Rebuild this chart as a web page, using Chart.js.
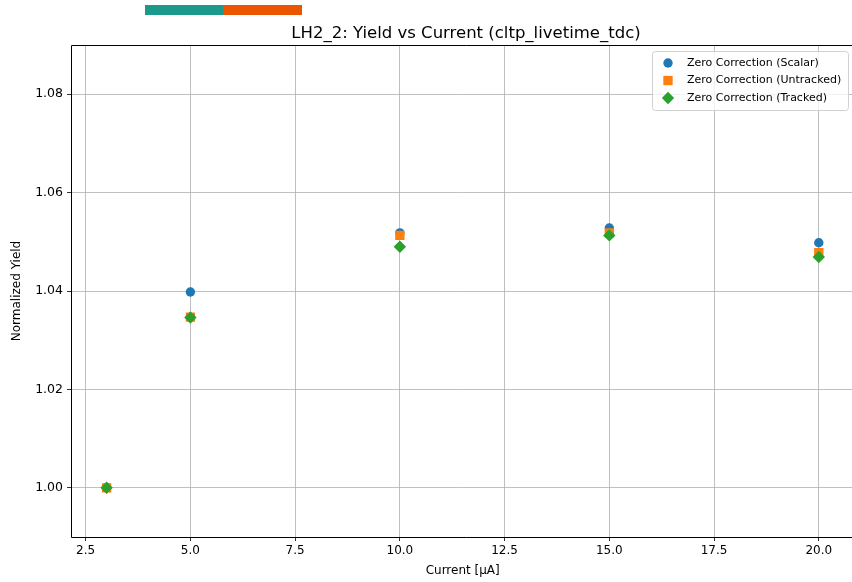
<!DOCTYPE html>
<html>
<head>
<meta charset="utf-8">
<script src="https://cdn.jsdelivr.net/npm/chart.js@4/dist/chart.umd.min.js"></script>
<style>
  html, body { margin: 0; padding: 0; background: #fff; overflow: hidden; }
  #wrap { position: relative; width: 861px; height: 582px; }
  .bar { position: absolute; top: 5px; height: 10px; }
</style>
</head>
<body>
<div id="wrap">
  <canvas id="yieldChart" width="861" height="582"></canvas>
  <div class="bar" style="left:145px;width:78px;background:#1b998a"></div>
  <div class="bar" style="left:223px;width:79px;background:#ea5600"></div>
</div>
<script>
// {LH2_2 - 전류별 수율 산점도}

const currents = [3, 5, 10, 15, 20];
const scalarYield = [1.0000, 1.0398, 1.0518, 1.0528, 1.0498];
const untrackedYield = [1.0000, 1.0347, 1.0513, 1.0518, 1.0478];
const trackedYield = [1.0000, 1.0346, 1.0490, 1.0513, 1.0469];
const xTicks = [2.5, 5.0, 7.5, 10.0, 12.5, 15.0, 17.5, 20.0];
const yTicks = [1.00, 1.02, 1.04, 1.06, 1.08];

const seriesNames = ['Zero Correction (Scalar)', 'Zero Correction (Untracked)', 'Zero Correction (Tracked)'];
const titleText = 'LH2_2: Yield vs Current (cltp_livetime_tdc)';

const toPoints = (ys) => currents.map((x, i) => ({ x: x, y: ys[i] }));

// 차트 영역 안쪽 제목 / 범례 / 테두리
const framePlugin = {
  id: 'frame',
  afterDraw(chart) {
    const ctx = chart.ctx;
    const a = chart.chartArea;
    ctx.save();
    // 테두리 (오른쪽은 화면 밖)
    ctx.strokeStyle = '#000';
    ctx.lineWidth = 1;
    ctx.beginPath();
    ctx.moveTo(chart.width, a.top + 0.5);
    ctx.lineTo(a.left + 0.5, a.top + 0.5);
    ctx.lineTo(a.left + 0.5, a.bottom + 0.5);
    ctx.lineTo(chart.width, a.bottom + 0.5);
    ctx.stroke();
    // 제목
    ctx.fillStyle = '#000';
    ctx.font = '16.5px "DejaVu Sans"';
    ctx.textAlign = 'center';
    ctx.textBaseline = 'alphabetic';
    ctx.fillText(titleText, 466, 38);
    // 범례
    const bx = 652, by = 51, bw = 196, bh = 59;
    ctx.beginPath();
    ctx.roundRect(bx + 0.5, by + 0.5, bw, bh, 3);
    ctx.fillStyle = 'rgba(255,255,255,0.8)';
    ctx.fill();
    ctx.strokeStyle = '#d0d0d0';
    ctx.stroke();
    ctx.font = '11px "DejaVu Sans"';
    ctx.textAlign = 'left';
    ctx.textBaseline = 'middle';
    chart.data.datasets.forEach((ds, i) => {
      const cy = by + 12 + i * 17.5;
      const opts = {
        pointStyle: ds.pointStyle,
        radius: ds.pointRadius,
        rotation: 0,
        borderWidth: 0
      };
      ctx.fillStyle = ds.backgroundColor;
      ctx.strokeStyle = ds.backgroundColor;
      Chart.helpers.drawPoint(ctx, opts, bx + 16, cy);
      ctx.fillStyle = '#000';
      ctx.fillText(ds.label, bx + 35, cy);
    });
    ctx.restore();
  }
};

const ChartY = document.getElementById('yieldChart');
const yieldChart = new Chart(ChartY, {
  type: 'scatter',
  data: {
    datasets: [{
      label: seriesNames[0],
      data: toPoints(scalarYield),
      backgroundColor: '#1f77b4',
      borderColor: '#1f77b4',
      borderWidth: 0,
      pointStyle: 'circle',
      pointRadius: 4.7,
      order: 2
    },
    {
      label: seriesNames[1],
      data: toPoints(untrackedYield),
      backgroundColor: '#ff7f0e',
      borderColor: '#ff7f0e',
      borderWidth: 0,
      pointStyle: 'rect',
      pointRadius: 6.6,
      order: 1
    },
    {
      label: seriesNames[2],
      data: toPoints(trackedYield),
      backgroundColor: '#2ca02c',
      borderColor: '#2ca02c',
      borderWidth: 0,
      pointStyle: 'rectRot',
      pointRadius: 6.2,
      order: 0
    }]
  },
  options: {
    responsive: false,
    animation: false,
    layout: { padding: { top: 45, right: 3, left: 0, bottom: 0 } },
    scales: {
      x: {
        type: 'linear',
        min: 2.15,
        max: 20.85,
        afterBuildTicks: (s) => { s.ticks = xTicks.map(v => ({ value: v })); },
        afterFit: (s) => { s.height = 45; },
        grid: { color: '#b0b0b0', lineWidth: 0.8, tickColor: '#000', tickLength: 4 },
        border: { display: false },
        ticks: {
          color: '#000',
          padding: 3,
          maxRotation: 0,
          font: { family: 'DejaVu Sans', size: 12 },
          callback: (v) => Number(v).toFixed(1)
        },
        title: {
          display: true,
          text: 'Current [µA]',
          color: '#000',
          font: { family: 'DejaVu Sans', size: 12 },
          padding: { top: 0, bottom: 4 }
        }
      },
      y: {
        min: 0.99,
        max: 1.09,
        afterBuildTicks: (s) => { s.ticks = yTicks.map(v => ({ value: v })); },
        afterFit: (s) => { s.width = 71; },
        grid: { color: '#b0b0b0', lineWidth: 0.8, tickColor: '#000', tickLength: 4 },
        border: { display: false },
        ticks: {
          color: '#000',
          padding: 4,
          font: { family: 'DejaVu Sans', size: 12.5 },
          callback: (v) => Number(v).toFixed(2)
        },
        title: {
          display: true,
          text: 'Normalized Yield',
          color: '#000',
          font: { family: 'DejaVu Sans', size: 12 },
          padding: { top: 10, bottom: 0 }
        }
      }
    },
    plugins: {
      legend: { display: false },
      title: { display: false },
      tooltip: { enabled: false }
    }
  },
  plugins: [framePlugin]
});
</script>
</body>
</html>
